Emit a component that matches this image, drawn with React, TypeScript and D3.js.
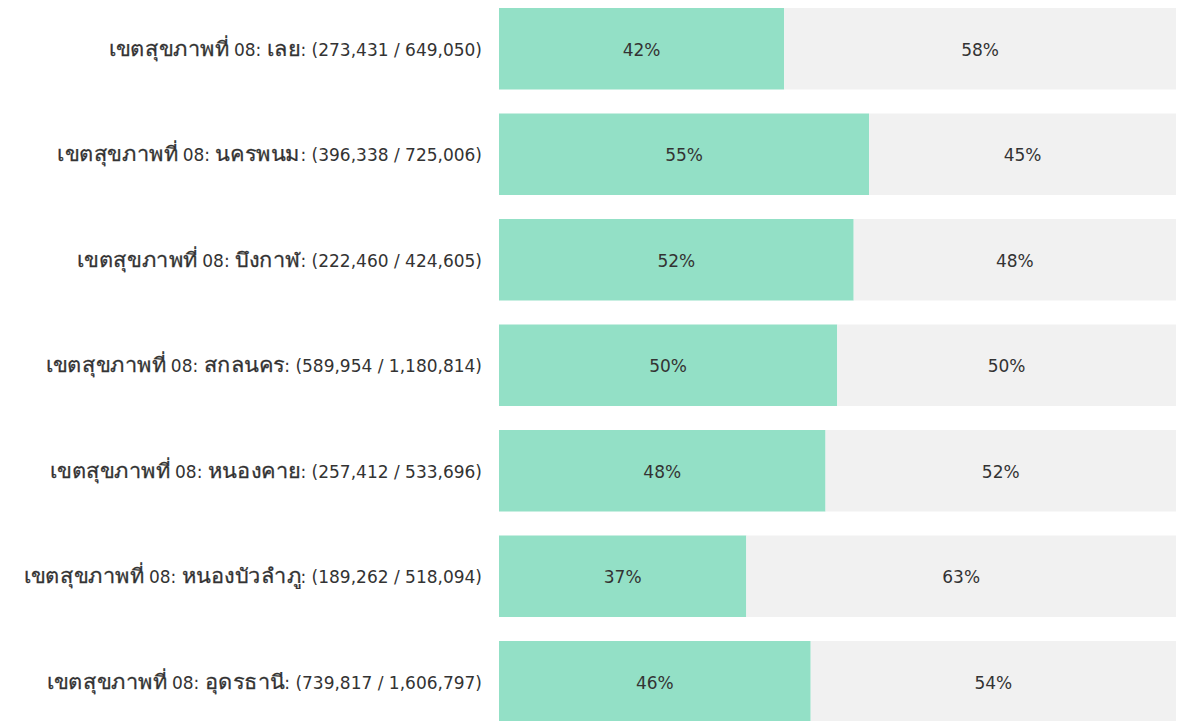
import React from "react";
import * as d3 from "d3";

const provinces = ["เลย", "นครพนม", "บึงกาฬ", "สกลนคร", "หนองคาย", "หนองบัวลำภู", "อุดรธานี"];
const achieved = [273431, 396338, 222460, 589954, 257412, 189262, 739817];
const totals = [649050, 725006, 424605, 1180814, 533696, 518094, 1606797];
const regionPrefix = "เขตสุขภาพที่ 08";

const W = 1185;
const H = 721;
const fmt = d3.format(",");

const FONT = "'DejaVu Sans', Verdana, sans-serif";
const FS = 17;
const THAI_FS = 20;
const THAI_SX = 1.09;

function splitThai(s: string) {
  const parts: { t: string; thai: boolean }[] = [];
  const re = /[\u0E00-\u0E7F]+/g;
  let last = 0;
  let m: RegExpExecArray | null;
  while ((m = re.exec(s))) {
    if (m.index > last) parts.push({ t: s.slice(last, m.index), thai: false });
    parts.push({ t: m[0], thai: true });
    last = m.index + m[0].length;
  }
  if (last < s.length) parts.push({ t: s.slice(last), thai: false });
  return parts;
}

let ctx: CanvasRenderingContext2D | null = null;
function measure(t: string, size: number) {
  if (!ctx) ctx = document.createElement("canvas").getContext("2d");
  ctx!.font = `${size}px ${FONT}`;
  return ctx!.measureText(t).width;
}

function Label({ text, xEnd, y }: { text: string; xEnd: number; y: number }) {
  const parts = splitThai(text);
  const pieces: React.ReactNode[] = [];
  let cur = xEnd;
  for (let k = parts.length - 1; k >= 0; k--) {
    const s = parts[k];
    if (s.thai) {
      const w = measure(s.t, THAI_FS) * THAI_SX;
      cur -= w;
      pieces.push(
        <text
          key={k}
          transform={`translate(${cur},${y}) scale(${THAI_SX},1)`}
          fontFamily={FONT}
          fontSize={THAI_FS}
          fill="#333"
          stroke="#333"
          strokeWidth={0.25}
        >
          {s.t}
        </text>
      );
    } else {
      const t = s.t.replace(/ /g, "\u00A0");
      const w = measure(t, FS);
      cur -= w;
      pieces.push(
        <text key={k} x={cur} y={y} fontFamily={FONT} fontSize={FS} fill="#333">
          {t}
        </text>
      );
    }
  }
  return <g>{pieces}</g>;
}

export default function App() {
  const x = d3.scaleLinear().domain([0, 1]).range([499, 1176]);
  const y = d3
    .scaleBand<number>()
    .domain(d3.range(provinces.length))
    .range([-2.55, 733.05])
    .paddingInner(0.2275)
    .paddingOuter(0.1);
  return (
    <svg
      width={W}
      height={H}
      style={{ position: "fixed", left: 0, top: 0, background: "#fff" }}
    >
      {provinces.map((p, i) => {
        const r = achieved[i] / totals[i];
        const yy = y(i)!;
        const bh = y.bandwidth();
        const cy = yy + bh / 2;
        const base = cy + 7;
        const x0 = x(0);
        const xm = x(r);
        const x1 = x(1);
        const label = `${regionPrefix}: ${p}: (${fmt(achieved[i])} / ${fmt(totals[i])})`;
        return (
          <g key={p}>
            <Label text={label} xEnd={482} y={base} />
            <rect x={x0} y={yy} width={xm - x0} height={bh} fill="#93e0c6" />
            <rect x={xm} y={yy} width={x1 - xm} height={bh} fill="#f1f1f1" />
            <text
              x={(x0 + xm) / 2}
              y={base}
              textAnchor="middle"
              fontFamily={FONT}
              fontSize={FS}
              fill="#333"
            >
              {Math.round(r * 100) + "%"}
            </text>
            <text
              x={(xm + x1) / 2}
              y={base}
              textAnchor="middle"
              fontFamily={FONT}
              fontSize={FS}
              fill="#333"
            >
              {Math.round((1 - r) * 100) + "%"}
            </text>
          </g>
        );
      })}
    </svg>
  );
}
